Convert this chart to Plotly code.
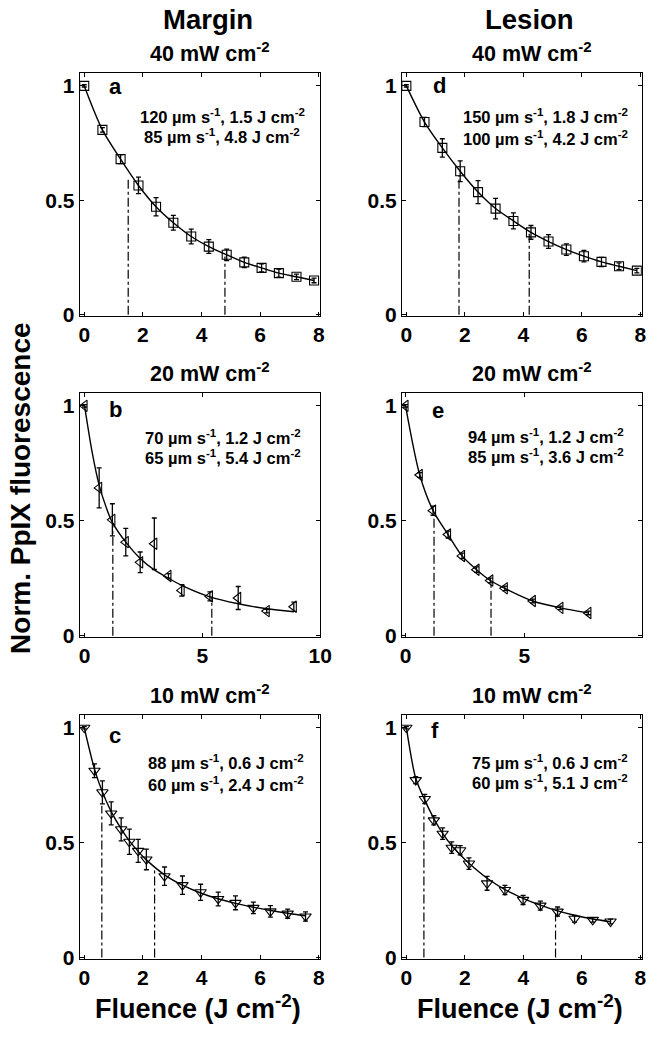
import plotly.graph_objects as go

W, H = 670, 1043          # reference picture size (positions below are in its pixels)
FONT = "Liberation Sans, Arial, sans-serif"

# ---------------- data ----------------
col_titles = ["Margin", "Lesion"]
row_titles = ["40 mW cm<sup>-2</sup>", "20 mW cm<sup>-2</sup>", "10 mW cm<sup>-2</sup>"]
y_label = "Norm. PpIX fluorescence"
x_label = "Fluence (J cm<sup>-2</sup>)"
panel_letters = ["a", "b", "c", "d", "e", "f"]
panel_notes = [
    ["120 µm s<sup>-1</sup>, 1.5 J cm<sup>-2</sup>", "85 µm s<sup>-1</sup>, 4.8 J cm<sup>-2</sup>"],
    ["70 µm s<sup>-1</sup>, 1.2 J cm<sup>-2</sup>", "65 µm s<sup>-1</sup>, 5.4 J cm<sup>-2</sup>"],
    ["88 µm s<sup>-1</sup>, 0.6 J cm<sup>-2</sup>", "60 µm s<sup>-1</sup>, 2.4 J cm<sup>-2</sup>"],
    ["150 µm s<sup>-1</sup>, 1.8 J cm<sup>-2</sup>", "100 µm s<sup>-1</sup>, 4.2 J cm<sup>-2</sup>"],
    ["94 µm s<sup>-1</sup>, 1.2 J cm<sup>-2</sup>", "85 µm s<sup>-1</sup>, 3.6 J cm<sup>-2</sup>"],
    ["75 µm s<sup>-1</sup>, 0.6 J cm<sup>-2</sup>", "60 µm s<sup>-1</sup>, 5.1 J cm<sup>-2</sup>"],
]

y_ticks = [0, 0.5, 1]
y_ticktext = ["0", "0.5", "1"]
x_ticks_8 = [0, 2, 4, 6, 8]
x_ticks_10 = [0, 5, 10]

# panel a (margin, 40 mW)
a_x = [0, 0.62, 1.24, 1.85, 2.45, 3.04, 3.65, 4.25, 4.86, 5.46, 6.05, 6.64, 7.24, 7.84]
a_y = [1.0, 0.808, 0.68, 0.565, 0.472, 0.402, 0.342, 0.298, 0.262, 0.229, 0.205, 0.182, 0.166, 0.150]
a_err = [0.005, 0.01, 0.02, 0.036, 0.04, 0.032, 0.032, 0.03, 0.025, 0.023, 0.018, 0.018, 0.012, 0.01]
a_fit_x = a_x
a_fit_y = a_y
a_vx = [1.5, 4.8]
a_vy = [0.60, 0.255]

# panel b (margin, 20 mW)
b_x = [0, 0.62, 1.18, 1.75, 2.36, 2.96, 3.56, 4.12, 5.32, 6.52, 7.73, 8.88]
b_y = [1.0, 0.643, 0.504, 0.407, 0.319, 0.40, 0.26, 0.197, 0.171, 0.164, 0.107, 0.126]
b_err = [0.005, 0.087, 0.07, 0.06, 0.045, 0.112, 0.01, 0.025, 0.02, 0.05, 0.008, 0.02]
b_fit_x = [0, 0.32, 0.62, 0.93, 1.18, 1.75, 2.36, 2.96, 3.56, 4.12, 5.32, 6.52, 7.73, 8.88]
b_fit_y = [1.0, 0.80, 0.655, 0.555, 0.493, 0.407, 0.336, 0.286, 0.25, 0.219, 0.169, 0.139, 0.117, 0.104]
b_vx = [1.2, 5.4]
b_vy = [0.49, 0.17]

# panel c (margin, 10 mW)
c_x = [0, 0.35, 0.62, 0.92, 1.26, 1.54, 1.84, 2.12, 2.74, 3.35, 3.97, 4.57, 5.16, 5.77, 6.35, 6.94, 7.55]
c_y = [1.0, 0.813, 0.719, 0.627, 0.558, 0.504, 0.464, 0.427, 0.354, 0.315, 0.284, 0.255, 0.238, 0.216, 0.201, 0.191, 0.179]
c_err = [0.005, 0.03, 0.05, 0.05, 0.05, 0.055, 0.05, 0.045, 0.04, 0.04, 0.035, 0.03, 0.03, 0.025, 0.025, 0.02, 0.02]
c_fit_x = c_x
c_fit_y = [1.0, 0.82, 0.72, 0.635, 0.56, 0.508, 0.462, 0.425, 0.36, 0.315, 0.281, 0.256, 0.236, 0.219, 0.205, 0.193, 0.182]
c_vx = [0.6, 2.4]
c_vy = [0.66, 0.39]

# panel d (lesion, 40 mW)
d_x = [0, 0.62, 1.23, 1.84, 2.45, 3.05, 3.66, 4.26, 4.86, 5.47, 6.07, 6.67, 7.27, 7.88]
d_y = [1.0, 0.842, 0.729, 0.627, 0.536, 0.464, 0.41, 0.36, 0.32, 0.285, 0.256, 0.231, 0.212, 0.193]
d_err = [0.005, 0.02, 0.04, 0.045, 0.05, 0.045, 0.035, 0.03, 0.03, 0.025, 0.025, 0.02, 0.015, 0.01]
d_fit_x = d_x
d_fit_y = d_y
d_vx = [1.8, 4.2]
d_vy = [0.61, 0.36]

# panel e (lesion, 20 mW)
e_x = [0, 0.60, 1.16, 1.79, 2.38, 2.99, 3.57, 4.18, 5.36, 6.52, 7.70]
e_y = [1.0, 0.699, 0.544, 0.44, 0.347, 0.287, 0.24, 0.206, 0.151, 0.121, 0.099]
e_err = [0.005, 0.01, 0.02, 0.015, 0.012, 0.012, 0.01, 0.01, 0.008, 0.008, 0.008]
e_fit_x = e_x
e_fit_y = e_y
e_vx = [1.2, 3.6]
e_vy = [0.51, 0.235]

# panel f (lesion, 10 mW)
f_x = [0, 0.32, 0.63, 0.94, 1.24, 1.55, 1.84, 2.14, 2.76, 3.37, 3.99, 4.58, 5.17, 5.75, 6.37, 6.98]
f_y = [1.0, 0.772, 0.69, 0.597, 0.539, 0.478, 0.467, 0.409, 0.323, 0.294, 0.251, 0.226, 0.2, 0.169, 0.164, 0.157]
f_err = [0.005, 0.015, 0.02, 0.02, 0.025, 0.025, 0.02, 0.025, 0.03, 0.02, 0.02, 0.02, 0.02, 0.015, 0.01, 0.01]
f_fit_x = f_x
f_fit_y = [1.0, 0.78, 0.685, 0.605, 0.54, 0.487, 0.447, 0.41, 0.345, 0.296, 0.258, 0.228, 0.203, 0.184, 0.168, 0.156]
f_vx = [0.6, 5.1]
f_vy = [0.654, 0.193]

# ---------------- layout helpers (reference pixel positions) ----------------
col_px = [(79.5, 325.0), (408.5, 653.5)]
row_px = [(74.0, 319.0), (397.0, 643.0), (722.0, 968.0)]

def px(x):
    return x / W

def py(y):
    return 1 - y / H

panels = [
    dict(x=a_x, y=a_y, e=a_err, fx=a_fit_x, fy=a_fit_y, vx=a_vx, vy=a_vy, sym="square-open", ms=9,
         row=0, col=0, xr=[-0.15, 8.05], xt=x_ticks_8, txt=(0.147, 0.947, 0.592, 0.826, 0.742)),
    dict(x=b_x, y=b_y, e=b_err, fx=b_fit_x, fy=b_fit_y, vx=b_vx, vy=b_vy, sym="triangle-left-open", ms=10,
         row=1, col=0, xr=[-0.2, 10], xt=x_ticks_10, txt=(0.147, 0.935, 0.595, 0.822, 0.738)),
    dict(x=c_x, y=c_y, e=c_err, fx=c_fit_x, fy=c_fit_y, vx=c_vx, vy=c_vy, sym="triangle-down-open", ms=10,
         row=2, col=0, xr=[-0.15, 8.05], xt=x_ticks_8, txt=(0.147, 0.915, 0.609, 0.806, 0.718)),
    dict(x=d_x, y=d_y, e=d_err, fx=d_fit_x, fy=d_fit_y, vx=d_vx, vy=d_vy, sym="square-open", ms=9,
         row=0, col=1, xr=[-0.15, 8.05], xt=x_ticks_8, txt=(0.156, 0.951, 0.598, 0.823, 0.733)),
    dict(x=e_x, y=e_y, e=e_err, fx=e_fit_x, fy=e_fit_y, vx=e_vx, vy=e_vy, sym="triangle-left-open", ms=10,
         row=1, col=1, xr=[-0.15, 9.95], xt=x_ticks_10, txt=(0.152, 0.931, 0.601, 0.823, 0.742)),
    dict(x=f_x, y=f_y, e=f_err, fx=f_fit_x, fy=f_fit_y, vx=f_vx, vy=f_vy, sym="triangle-down-open", ms=10,
         row=2, col=1, xr=[-0.15, 8.05], xt=x_ticks_8, txt=(0.137, 0.937, 0.618, 0.806, 0.724)),
]

fig = go.Figure()
layout = {}
annotations = []
tickfont = dict(family=FONT, size=21, color="black", weight="bold")


def ann(text, x, y, xref, yref, size, angle=0):
    return dict(text=text, x=x, y=y, xref=xref, yref=yref, showarrow=False,
                xanchor="center", yanchor="middle", textangle=angle,
                font=dict(family=FONT, size=size, color="black", weight="bold"))


for i, p in enumerate(panels):
    n = i + 1
    xa = "x" if n == 1 else f"x{n}"
    ya = "y" if n == 1 else f"y{n}"
    # fit curve
    fig.add_trace(go.Scatter(x=p["fx"], y=p["fy"], mode="lines", xaxis=xa, yaxis=ya,
                             line=dict(color="black", width=1.4, shape="spline", smoothing=0.8),
                             showlegend=False, hoverinfo="skip"))
    # dash-dot fluence markers
    for vx, vy in zip(p["vx"], p["vy"]):
        fig.add_trace(go.Scatter(x=[vx, vx], y=[0, vy], mode="lines", xaxis=xa, yaxis=ya,
                                 line=dict(color="black", width=1.2, dash="dashdot"),
                                 showlegend=False, hoverinfo="skip"))
    # data points with error bars
    fig.add_trace(go.Scatter(x=p["x"], y=p["y"], mode="markers", xaxis=xa, yaxis=ya,
                             marker=dict(symbol=p["sym"], size=p["ms"], color="black",
                                         line=dict(color="black", width=1.1)),
                             error_y=dict(type="data", array=p["e"], color="black", thickness=1.3, width=2.5),
                             showlegend=False))
    x0, x1 = col_px[p["col"]]
    y0, y1 = row_px[p["row"]]
    axis_common = dict(showline=True, linecolor="black", linewidth=1.2, mirror="allticks",
                       ticks="inside", ticklen=4, tickwidth=1, tickcolor="black",
                       showgrid=False, zeroline=False, tickfont=tickfont)
    layout["xaxis" if n == 1 else f"xaxis{n}"] = dict(
        domain=[px(x0), px(x1)], range=p["xr"], anchor=ya, tickvals=p["xt"], **axis_common)
    layout["yaxis" if n == 1 else f"yaxis{n}"] = dict(
        domain=[py(y1), py(y0)], range=[-0.005, 1.055], anchor=xa, tickvals=y_ticks,
        ticktext=y_ticktext, **axis_common)
    lx, ly, tx, ty1, ty2 = p["txt"]
    annotations.append(ann(panel_letters[i], lx, ly, f"{xa} domain", f"{ya} domain", 22))
    for t, ty in zip(panel_notes[i], [ty1, ty2]):
        annotations.append(ann(t, tx, ty, f"{xa} domain", f"{ya} domain", 16.5))

# column headers
for c, t in enumerate(col_titles):
    cx = (col_px[c][0] + col_px[c][1]) / 2 + 8
    annotations.append(ann(t, px(cx), py(20), "paper", "paper", 27.5))
# row titles (irradiance)
for c in range(2):
    cx = (col_px[c][0] + col_px[c][1]) / 2 + 10
    for r, t in enumerate(row_titles):
        annotations.append(ann(t, px(cx), py(row_px[r][0] - 21), "paper", "paper", 21.5))
# x labels
for c in range(2):
    cx = (col_px[c][0] + col_px[c][1]) / 2 - 2
    annotations.append(ann(x_label, px(cx), py(1017), "paper", "paper", 27))
# y label
annotations.append(ann(y_label, px(19), py(493), "paper", "paper", 28, angle=-90))

# figure fills the whole browser window
fig.update_layout(autosize=True, margin=dict(l=0, r=0, t=0, b=0),
                  paper_bgcolor="white", plot_bgcolor="white",
                  annotations=annotations, **layout)

fig.write_html("out.html", default_width="100vw", default_height="100vh",
               config={"displayModeBar": False, "responsive": True},
               post_script="document.body.style.margin='0';document.body.style.overflow='hidden';")
